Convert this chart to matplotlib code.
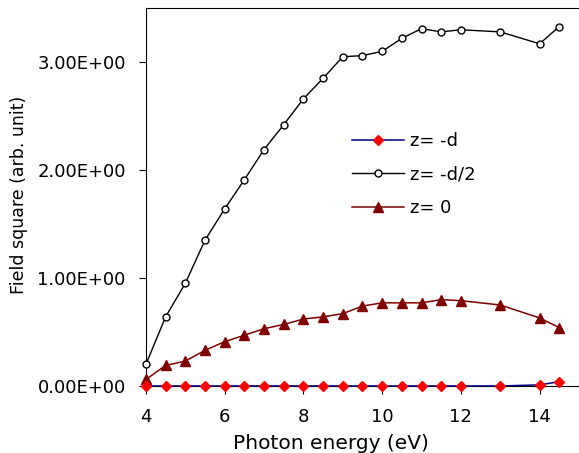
import matplotlib
matplotlib.use("Agg")
import matplotlib.pyplot as plt

plt.rcParams.update({
    'font.family': 'DejaVu Sans',
    'font.size': 12,
})

# ============ DATA ============
energy = [4, 4.5, 5, 5.5, 6, 6.5, 7, 7.5, 8, 8.5, 9, 9.5, 10, 10.5, 11,
          11.5, 12, 13, 14, 14.5]

z_minus_d = [0.0, 0.0, 0.0, 0.0, 0.0, 0.0, 0.0, 0.0, 0.0, 0.0, 0.0, 0.0,
             0.0, 0.0, 0.0, 0.0, 0.0, 0.0, 0.01, 0.04]

z_minus_half_d = [0.20, 0.64, 0.95, 1.35, 1.64, 1.91, 2.19, 2.42, 2.66,
                  2.85, 3.05, 3.06, 3.10, 3.22, 3.31, 3.28, 3.30, 3.28,
                  3.17, 3.33]

z_zero = [0.06, 0.19, 0.23, 0.33, 0.41, 0.47, 0.53, 0.57, 0.62, 0.64,
          0.67, 0.74, 0.77, 0.77, 0.77, 0.80, 0.79, 0.75, 0.63, 0.54]

labels = ['z= -d', 'z= -d/2', 'z= 0']
x_ticks = [4, 6, 8, 10, 12, 14]
y_ticks = [0, 1, 2, 3]
y_ticklabels = ['0.00E+00', '1.00E+00', '2.00E+00', '3.00E+00']

# ============ PLOT ============
fig = plt.figure(figsize=(5.79, 4.53), dpi=100)
ax = fig.add_axes([0.252, 0.148, 0.748, 0.834])

ax.plot(energy, z_minus_d, color='#000080', lw=1.1, marker='D', ms=5,
        mfc='red', mec='red', label=labels[0], clip_on=False, zorder=4)
ax.plot(energy, z_minus_half_d, color='black', lw=1.0, marker='o', ms=5,
        mfc='white', mec='black', label=labels[1], clip_on=False, zorder=3)
ax.plot(energy, z_zero, color='#800000', lw=1.1, marker='^', ms=7,
        mfc='#800000', mec='#800000', label=labels[2], clip_on=False, zorder=3)

ax.set_xlim(4, 15)
ax.set_ylim(0, 3.5)
ax.set_xticks(x_ticks)
ax.set_yticks(y_ticks)
ax.set_yticklabels(y_ticklabels)
ax.tick_params(axis='x', direction='out', length=6, labelsize=13, pad=10)
ax.tick_params(axis='y', direction='out', length=5, labelsize=13, pad=9.5)
ax.spines['right'].set_visible(False)

ax.set_xlabel('Photon energy (eV)', fontsize=14.5)
ax.xaxis.set_label_coords(0.427, -0.127)
ax.set_ylabel('Field square (arb. unit)', fontsize=12.5)
ax.yaxis.set_label_coords(-0.2725, 0.505)

ax.legend(loc='upper left', bbox_to_anchor=(0.476, 0.672), frameon=False,
          borderpad=0, borderaxespad=0, handlelength=2.9, handletextpad=0.33,
          labelspacing=0.86, fontsize=13)

fig.savefig('out.png', dpi=100, facecolor='white')
